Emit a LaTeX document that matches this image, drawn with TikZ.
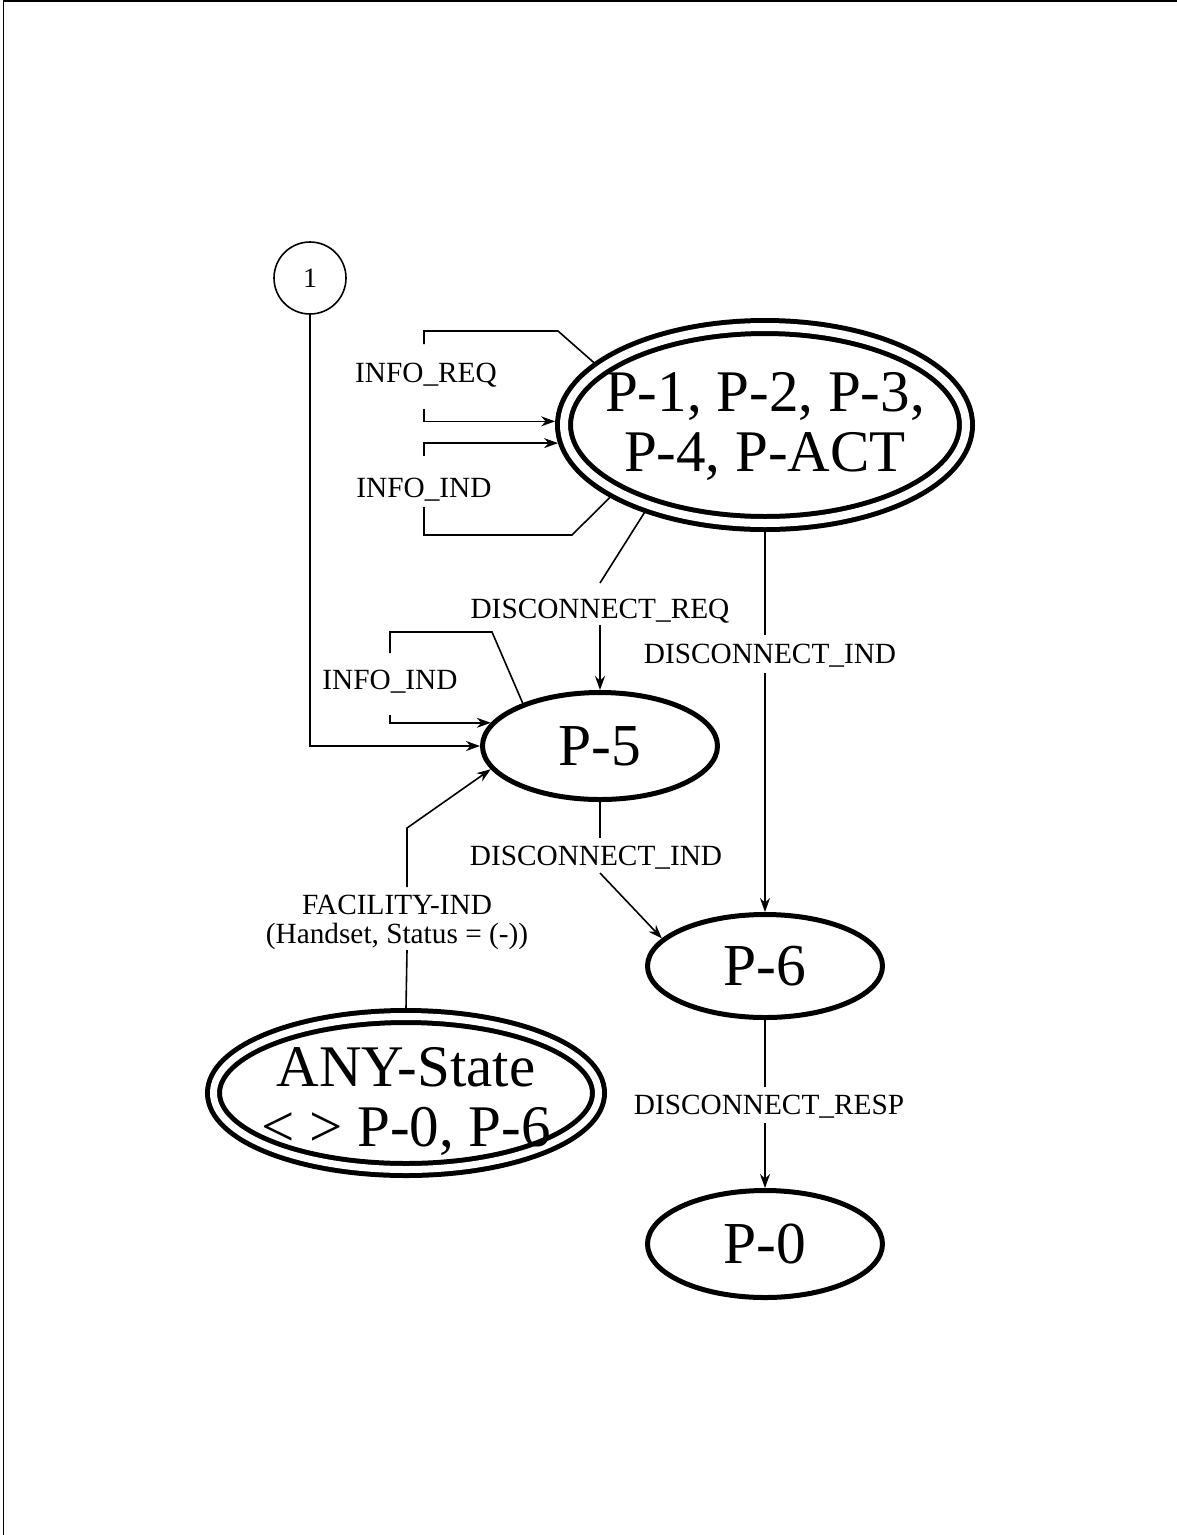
\documentclass[tikz,border=0pt]{standalone}
\usepackage{fontspec}
\setmainfont{Liberation Serif}
\usetikzlibrary{shapes.geometric}
\usetikzlibrary{arrows.meta}

\tikzset{
    state/.style={ellipse, draw, line width=5pt, minimum width=235pt, minimum height=107pt, font=\fontsize{59.5}{61}\selectfont},
    dstate/.style={ellipse, draw, double, line width=5pt, double distance=8pt, outer sep=9pt},
    bigtext/.style={align=center, inner sep=0pt, font=\fontsize{59}{60}\selectfont},
    msg/.style={align=center, inner sep=0pt, font=\fontsize{29.3}{29}\selectfont},
    conn/.style={line width=1.6pt},
}

\begin{document}
\begin{tikzpicture}[x=1pt, y=-1pt, >={Stealth[length=14pt,width=10pt]}]
    \useasboundingbox (0,0) rectangle (1177,1535);
    % Draw page frame
    \draw[line width=1.5pt] (3.5,1535) -- (3.5,1) -- (1177,1);

    % Draw states
    \node[dstate, minimum width=402pt, minimum height=196pt] (pact) at (765,425) {};
    \node[bigtext] (pacttxt) at (765,426) {P-1, P-2, P-3,\\P-4, P-ACT};
    \node[state] (p5) at (600,746) {P-5};
    \node[state, minimum height=103pt] (p6) at (765,966) {P-6};
    \node[state] (p0) at (765,1244) {P-0};
    \node[dstate, minimum width=385pt, minimum height=153pt, double distance=7pt, outer sep=8.5pt] (any) at (406,1093) {};
    \node[bigtext] (anytxt) at (406,1101) {ANY-State\\< > P-0, P-6};
    \node[circle, draw, line width=1.6pt, minimum size=72pt, inner sep=0pt, font=\fontsize{28}{30}\selectfont] (c1) at (310,278) {1};

    % Draw labels
    \node[msg] (ireq) at (426,375) {INFO\_REQ};
    \node[msg] (iind) at (424,490) {INFO\_IND};
    \node[msg] (iind5) at (390,682) {INFO\_IND};
    \node[msg] (dreq) at (600,611) {DISCONNECT\_REQ};
    \node[msg] (dind) at (770,656) {DISCONNECT\_IND};
    \node[msg] (dind5) at (596,858) {DISCONNECT\_IND};
    \node[msg] (dresp) at (769,1107) {DISCONNECT\_RESP};
    \node[msg] (fac) at (397,922) {FACILITY-IND\\(Handset, Status = (-))};

    % INFO_REQ loop
    \coordinate (rqa) at (558,331);
    \coordinate (rqb) at (424,344);
    \coordinate (rqc) at (424,409);
    \draw[conn] (pact.160) -- (rqa) -| (rqb);
    \draw[conn, ->] (rqc) |- (pact.179);

    % INFO_IND loop on P-ACT
    \coordinate (iia) at (424,456);
    \coordinate (iib) at (424,507);
    \coordinate (iic) at (572,535);
    \draw[conn, ->] (iia) |- (pact.185);
    \draw[conn] (iib) |- (iic) -- (pact.205);

    % INFO_IND loop on P-5
    \coordinate (ipa) at (492,632);
    \coordinate (ipb) at (390,653);
    \coordinate (ipc) at (390,715);
    \draw[conn] (p5.151) -- (ipa) -| (ipb);
    \draw[conn, ->] (ipc) |- (p5.168);

    % Connector 1 into P-5
    \draw[conn, ->] (c1) |- (p5.west);

    % DISCONNECT_REQ
    \coordinate (dqa) at (600,583);
    \coordinate (dqb) at (600,625);
    \draw[conn] (pact.216) -- (dqa);
    \draw[conn, ->] (dqb) -- (p5.north);

    % DISCONNECT_IND from P-ACT
    \coordinate (dia) at (765,635);
    \coordinate (dib) at (765,673);
    \draw[conn] (pact.south) -- (dia);
    \draw[conn, ->] (dib) -- (p6.north);

    % DISCONNECT_IND from P-5
    \coordinate (d5a) at (600,838);
    \coordinate (d5b) at (600,873);
    \draw[conn] (p5.south) -- (d5a);
    \draw[conn, ->] (d5b) -- (p6.165);

    % DISCONNECT_RESP
    \coordinate (dra) at (765,1087);
    \coordinate (drb) at (765,1123);
    \draw[conn] (p6.south) -- (dra);
    \draw[conn, ->] (drb) -- (p0.north);

    % FACILITY-IND
    \coordinate (fca) at (407,950);
    \coordinate (fcb) at (407,887);
    \coordinate (fcc) at (407,828);
    \draw[conn] (any.north) -- (fca);
    \draw[conn, ->] (fcb) -- (fcc) -- (p5.192);
\end{tikzpicture}
\end{document}
